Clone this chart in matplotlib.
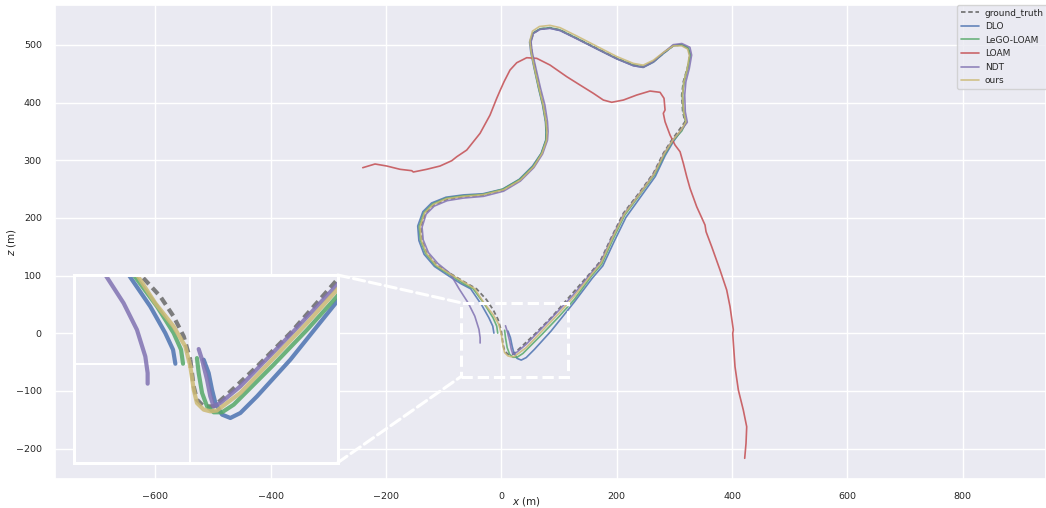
import numpy as np
import matplotlib
matplotlib.use("Agg")
import matplotlib.pyplot as plt
import seaborn as sns
from matplotlib.patches import Rectangle, ConnectionPatch

sns.set_theme(style="darkgrid")
plt.rcParams["font.family"] = ["DejaVu Sans"]

# ---- trajectories (x, z in metres) ----
gt_x = [0, 2.9, 5.7, 11.5, 20.1, 31.6, 57.5, 86.2, 126.4, 153.8, 171.1, 191.4, 211.6, 240.5,
        263.6, 280.9, 295.5, 310, 318.5, 314.5, 312.8, 315.6, 322.5, 327.2, 324.3, 312.8, 298.3,
        280.9, 263.6, 246.2, 228.9, 200.1, 165.4, 130.7, 101.8, 84.4, 67.1, 55.5, 51.0, 52.7,
        58.4, 65.9, 72.8, 77.5, 78.7, 78.2, 70.1, 55.5, 32.4, 3.5, -31.2, -65.9, -94.7, -117.9,
        -132.3, -139.8, -138.0, -129.4, -112.0, -89.0, -60.0, -43.1, -25.9, -14.4, -5.7, 0]
gt_z = [3.9, -19.1, -30.6, -36.4, -36.4, -26.3, -1.9, 26.9, 72.8, 104.0, 124.2, 167.5, 208.1,
        245.5, 277.4, 312.1, 335.2, 355, 366.9, 384.3, 413.2, 436.3, 459.5, 482.6, 494.2, 500,
        498.7, 485.5, 471.0, 462.3, 465.2, 476.8, 494.2, 511.5, 525.9, 529.9, 527.7, 520.2,
        505.6, 488.3, 459.5, 424.8, 395.9, 366.9, 349.6, 335, 312.1, 288.9, 265.8, 248.5, 239.8,
        236.9, 232.4, 222.5, 208.1, 184.8, 161.8, 138.7, 118.4, 104.0, 86.7, 77.2, 58.5, 41.2,
        24.0, 3.9]

dlo_x = [11.5, 15.8, 18.7, 21.6, 27.3, 34.5, 43.1, 57.5, 86.2, 126.4, 158, 176, 196, 216, 244,
         267, 284, 298, 312, 320, 316, 314, 317, 323, 327, 324, 312, 298, 281, 263.6, 246, 229,
         200, 165, 131, 102, 84, 66, 54, 49, 51, 57, 64.5, 71.5, 76.5, 77.5, 77, 69, 54, 31, 2,
         -32, -66, -96, -121, -136, -145, -143, -134, -116, -92, -70, -53.2, -34.5, -21.6,
         -14.9, -12.9]
dlo_z = [3.9, -7.6, -22.0, -33.5, -43.5, -46.4, -42.1, -27.7, 3.9, 54.1, 96, 117, 160, 201, 240,
         272, 308, 332, 352, 365, 384, 413, 436, 459, 482, 494, 500, 498.5, 485, 470, 461, 464,
         476, 493.5, 511, 525, 529, 527, 520, 505, 488, 459, 425, 396, 367, 350, 335, 312, 290,
         267, 250, 242, 240, 236, 226, 211, 186, 161, 137, 116, 100, 86, 77.2, 49.8, 26.9, 12.5,
         0.4]

lego_x = [5.7, 7.2, 10.1, 14.4, 20.1, 27.3, 37.4, 71.8, 100.6, 126.4, 156, 174, 194, 214, 242,
          265.5, 283, 297, 313, 320, 316, 314, 316.5, 323, 327.5, 324.5, 312.8, 298, 281, 263.6,
          246, 229, 200, 165, 131, 102, 84.4, 67, 55, 50.5, 52, 57.5, 65, 72, 77, 78, 77.5,
          69.5, 55, 32, 3, -31.5, -66, -95, -119, -134, -142.5, -140.5, -131.5, -114, -90, -65,
          -48.9, -28.7, -14.4, -8.0, -6.3]
lego_z = [5.3, -7.6, -24.8, -36.4, -41.5, -41.5, -34.9, -0.4, 29.7, 58.5, 99, 120, 164, 205, 243,
          275, 310, 333, 351, 365.5, 384, 413, 436, 459.5, 482.5, 494.5, 500.5, 499, 486, 471,
          462, 465, 476.5, 494, 511.5, 526, 530, 528, 520.5, 505.6, 488.3, 459.5, 424.8, 396,
          367, 350, 335, 312, 289.5, 267, 250, 241, 238.5, 234.5, 224.5, 209.5, 185.5, 162,
          138.5, 117, 102, 86, 77.2, 49.8, 26.9, 12.5, 0.4]

loam_x = [-240.3, -219.0, -198.7, -175.7, -155.4, -152.6, -129.4, -106.3, -86.0, -77.3, -60.0,
          -36.9, -19.6, -8.0, -2.3, 4.7, 15.1, 26.7, 44.0, 61.4, 84.4, 113.4, 136.5, 159.5,
          176.9, 191.4, 211.6, 234.8, 257.8, 275.2, 282.1, 283.9, 280.9, 283.9, 292.5, 301.2,
          309.9, 315.6, 321.5, 327.2, 338.8, 353.2, 355.0, 364.8, 379.2, 390.8, 396.6, 402.3,
          401.2, 405.2, 411.0, 419.6, 425.5, 424.3, 422.0]
loam_z = [287.2, 293.6, 290.1, 284.4, 282.0, 279.7, 284.4, 290.1, 299.3, 306.2, 317.8, 346.8,
          378.5, 407.5, 420.7, 436.3, 456.6, 469.2, 477.9, 476.8, 465.2, 445.0, 430.5, 416.2,
          404.5, 400.6, 404.5, 413.2, 420.1, 417.9, 407.5, 387.2, 381.5, 366.9, 343.9, 326.5,
          314.9, 294.8, 271.6, 251.4, 219.5, 187.8, 176.2, 150.2, 109.8, 75.1, 46.1, 5.7, 0,
          -57.9, -98.3, -133.0, -162.0, -190.7, -216.7]

ndt_x = [7.2, 10.1, 14.4, 17.2, 20.1, 25.9, 43.1, 86.2, 126.4, 154.5, 172, 192, 212.5, 241.5,
         264.5, 282, 296.5, 313, 322.5, 319, 318, 320, 326, 330, 327, 313, 298, 281, 263.6, 246,
         229, 200, 165, 131, 102, 84.4, 67, 55.5, 51.5, 53.5, 60, 68, 75.5, 80, 81, 80, 71.5,
         56.5, 33, 4, -31, -66, -94, -116.5, -130.5, -137.5, -135.5, -126.5, -110, -89, -73.3,
         -57.5, -46.0, -38.8, -36.8, -36.8]
ndt_z = [13.1, 3.9, -13.4, -27.7, -36.4, -33.5, -19.1, 25.4, 68.5, 103, 123, 166.5, 207, 244.5,
         276.5, 311, 334, 353.5, 366, 384, 413, 436, 459.5, 482.5, 496, 502.5, 500.5, 486.5,
         471, 461.5, 464, 476, 493.5, 510.5, 525, 529, 527, 520, 505, 488, 459.5, 424.8, 396,
         367, 350, 335, 311, 287.5, 264, 246.5, 237.5, 234.5, 230, 220.5, 206.5, 184, 162, 140,
         121, 104, 77.2, 52.7, 29.7, 6.7, -7.6, -16.8]

ours_x = [0, 2.9, 5.7, 11.5, 17.2, 23.0, 43.1, 71.8, 100.6, 126.4, 155.5, 173, 193, 213.5, 242,
          265, 282.5, 297, 312, 320, 316, 314, 316.5, 322.5, 326, 323, 312.8, 298.3, 281, 263.6,
          246, 229, 200, 165, 131, 101.8, 84.4, 66, 54, 49.5, 51.5, 57.5, 65.5, 72.5, 77.5, 79,
          78.5, 70.5, 56, 33, 4, -31, -66, -95, -118, -133, -141, -139, -130, -113, -89, -62,
          -46, -30.2, -14.4, -4.3, 0]
ours_z = [-1.9, -22.0, -33.5, -39.2, -40.7, -39.9, -24.8, 5.3, 35.5, 64.2, 101, 122, 166, 207,
          244.5, 276.5, 311.5, 334.5, 353, 366.5, 384, 413, 436, 459, 482, 493, 498.5, 498.5,
          487, 473.5, 465, 468, 480, 498, 515.5, 530, 534, 532, 524, 507, 488.3, 459.5, 424.8,
          396, 367, 350, 335, 312, 289, 266, 249, 240.5, 237.5, 233.5, 223.5, 209, 185, 162, 139,
          118, 103, 87, 77.2, 52.7, 32.6, 15.3, -1.9]

labels = ["ground_truth", "DLO", "LeGO-LOAM", "LOAM", "NDT", "ours"]
colors = ["dimgray", "#4C72B0", "#55A868", "#C44E52", "#8172B2", "#CCB974"]
series = [(gt_x, gt_z), (dlo_x, dlo_z), (lego_x, lego_z), (loam_x, loam_z),
          (ndt_x, ndt_z), (ours_x, ours_z)]

# zoomed window (dashed box in main axes) and inset view limits
box_x = (-70, 116)
box_z = (-75, 53)
ins_x = (-100, 127)
ins_z = (-85, 77)

W, H = 1046, 508
fig = plt.figure(figsize=(W / 100, H / 100), dpi=100)
ax = fig.add_axes([55 / W, 29 / H, 991 / W, 474 / H])

for (xs, zs), lab, col in zip(series, labels, colors):
    if lab == "ground_truth":
        ax.plot(xs, zs, color=col, lw=1.3, ls=(0, (2.5, 1.5)), alpha=0.9, label=lab)
    else:
        ax.plot(xs, zs, color=col, lw=1.2, alpha=0.85, label=lab)

ax.set_xlim(-774, 944.5)
ax.set_ylim(-252.6, 569.3)
ax.set_xticks([-600, -400, -200, 0, 200, 400, 600, 800])
ax.set_yticks([-200, -100, 0, 100, 200, 300, 400, 500])
ax.tick_params(labelsize=6.8, pad=3.5)
ax.set_xlabel("$x$ (m)", fontsize=7.5)
ax.set_ylabel("$z$ (m)", fontsize=7.5)
ax.xaxis.set_label_coords((526 - 55) / 991, -0.033)
ax.yaxis.set_label_coords(-0.037, 0.5)

ax.legend(loc="upper left", bbox_to_anchor=((957 - 55) / 991, 1.0), borderaxespad=0,
          fontsize=6.5, labelspacing=0.5, handlelength=2.0, handletextpad=0.7,
          framealpha=0.8)

ax.add_patch(Rectangle((box_x[0], box_z[0]), box_x[1] - box_x[0], box_z[1] - box_z[0],
                       fill=False, ec="white", lw=2.2, ls="--", zorder=5))

axins = fig.add_axes([74.3 / W, (H - 462.7) / H, 263.4 / W, 187.7 / H])
for (xs, zs), lab, col in zip(series, labels, colors):
    if lab == "ground_truth":
        axins.plot(xs, zs, color=col, lw=3, ls=(0, (2.0, 1.2)), alpha=0.85)
    else:
        axins.plot(xs, zs, color=col, lw=3, alpha=0.85)
axins.set_xlim(*ins_x)
axins.set_ylim(*ins_z)
axins.set_xticks([0])
axins.set_yticks([0])
axins.set_xticklabels([])
axins.set_yticklabels([])
axins.tick_params(length=0)
axins.grid(True, color="white", lw=1.5)
for sp in axins.spines.values():
    sp.set_visible(True)
    sp.set_color("white")
    sp.set_linewidth(2.2)

for ca, cb in [((1, 1), (box_x[0], box_z[1])), ((1, 0), (box_x[0], box_z[0]))]:
    con = ConnectionPatch(xyA=ca, coordsA=axins.transAxes, xyB=cb, coordsB=ax.transData,
                          color="white", lw=2.2, ls="--")
    fig.add_artist(con)

fig.savefig("out.png", dpi=100)
